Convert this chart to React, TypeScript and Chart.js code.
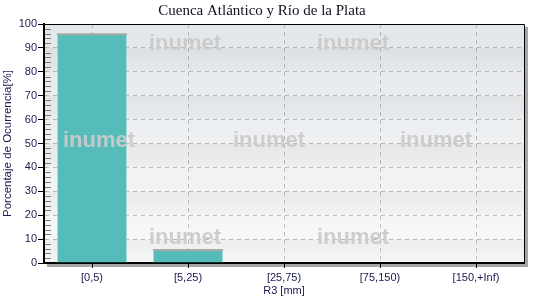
import React, { useEffect, useRef } from 'react';
import { Chart, registerables } from 'chart.js';

Chart.register(...registerables);

const chartTitle = 'Cuenca Atlántico y Río de la Plata';
const xAxisTitle = 'R3 [mm]';
const yAxisTitle = 'Porcentaje de Ocurrencia[%]';
const categories = ['[0,5)', '[5,25)', '[25,75)', '[75,150)', '[150,+Inf)'];
const percentages = [95.7, 5.4, 0, 0, 0];
const yMin = 0;
const yMax = 100;
const yStep = 10;
const yMinorStep = 2;
const watermarkText = 'inumet';

const TEXT_COLOR = '#1a1a50';
const SANS = 'Arial, "Liberation Sans", sans-serif';
const GRID_COLOR = 'rgba(120,120,120,0.45)';

const decorPlugin = {
  id: 'decor',
  beforeDraw(chart: any) {
    const { ctx, chartArea: a } = chart;
    const ys = chart.scales.y;
    ctx.save();
    ctx.fillStyle = '#a6a6a6';
    ctx.fillRect(a.right + 1, a.top + 3, 3, a.bottom - a.top);
    ctx.fillRect(a.left + 3, a.bottom + 1, a.right - a.left + 1, 3);
    const g = ctx.createLinearGradient(0, a.top, 0, a.bottom);
    g.addColorStop(0, '#e4e7ea');
    g.addColorStop(1, '#f8f9fa');
    ctx.fillStyle = g;
    ctx.fillRect(a.left, a.top, a.right - a.left, a.bottom - a.top);
    for (let v = yMax - yStep; v > yMin; v -= 2 * yStep) {
      const top = ys.getPixelForValue(v);
      const bot = ys.getPixelForValue(v - yStep);
      const bg = ctx.createLinearGradient(0, top, 0, bot);
      bg.addColorStop(0, 'rgba(0,0,0,0.04)');
      bg.addColorStop(1, 'rgba(0,0,0,0.01)');
      ctx.fillStyle = bg;
      ctx.fillRect(a.left, top, a.right - a.left, bot - top);
    }
    ctx.restore();
  },
  afterDatasetsDraw(chart: any) {
    const { ctx } = chart;
    const meta = chart.getDatasetMeta(0);
    ctx.save();
    ctx.fillStyle = '#a8a8a8';
    meta.data.forEach((bar: any, i: number) => {
      if (!percentages[i]) return;
      const w = bar.width;
      ctx.fillRect(bar.x - w / 2, bar.y - 1, w, 2);
    });
    ctx.restore();
  },
  afterDraw(chart: any) {
    const { ctx, chartArea: a } = chart;
    const ys = chart.scales.y;
    ctx.save();
    ctx.strokeStyle = '#7a7a7a';
    ctx.lineWidth = 1;
    ctx.beginPath();
    for (let v = yMin + yMinorStep; v < yMax; v += yMinorStep) {
      if (v % yStep === 0) continue;
      const y = Math.round(ys.getPixelForValue(v)) + 0.5;
      ctx.moveTo(a.left + 1, y);
      ctx.lineTo(a.left + 7, y);
    }
    ctx.stroke();
    ctx.strokeStyle = '#000';
    ctx.beginPath();
    ctx.moveTo(a.left, Math.round(a.top) + 0.5);
    ctx.lineTo(Math.round(a.right) + 0.5, Math.round(a.top) + 0.5);
    ctx.lineTo(Math.round(a.right) + 0.5, a.bottom);
    ctx.stroke();
    ctx.font = `bold 22px ${SANS}`;
    ctx.fillStyle = 'rgba(202,202,202,0.95)';
    ctx.textAlign = 'center';
    ctx.textBaseline = 'middle';
    const rows = [
      { y: 44, xs: [185, 353] },
      { y: 141, xs: [99, 269, 436] },
      { y: 238, xs: [185, 353] },
    ];
    rows.forEach((r) => r.xs.forEach((x) => ctx.fillText(watermarkText, x, r.y)));
    ctx.restore();
  },
};

export default function App() {
  const ref = useRef<HTMLCanvasElement>(null);
  useEffect(() => {
    if (!ref.current) return;
    const chart = new Chart(ref.current, {
      type: 'bar',
      data: {
        labels: categories,
        datasets: [
          {
            data: percentages,
            backgroundColor: '#56bcb9',
            borderColor: '#a9dedb',
            borderWidth: { left: 1, right: 1, top: 0, bottom: 0 },
            borderSkipped: false,
            categoryPercentage: 1,
            barPercentage: 0.73,
          },
        ],
      },
      options: {
        responsive: false,
        animation: false,
        layout: { padding: { left: 0, right: 16, top: 0, bottom: 0 } },
        plugins: {
          legend: { display: false },
          tooltip: { enabled: false },
          title: {
            display: true,
            text: chartTitle,
            color: '#101020',
            font: { family: '"Liberation Serif", "Times New Roman", serif', size: 15, weight: 'normal' },
            padding: { top: 2, bottom: 4 },
          },
        },
        scales: {
          x: {
            z: 1,
            offset: true,
            afterFit: (s: any) => {
              s.height = 37;
            },
            grid: {
              offset: false,
              color: GRID_COLOR,
              lineWidth: 1,
              drawTicks: true,
              tickLength: 5,
              tickColor: '#000',
              tickWidth: 1,
              tickBorderDash: [],
            },
            border: { display: true, color: '#000', width: 2, dash: [4, 4] },
            ticks: {
              color: TEXT_COLOR,
              font: { family: SANS, size: 11 },
              padding: 3,
              maxRotation: 0,
              autoSkip: false,
            },
            title: {
              display: true,
              text: xAxisTitle,
              color: TEXT_COLOR,
              font: { family: SANS, size: 11 },
              padding: { top: 0, bottom: 2.4 },
            },
          },
          y: {
            z: 1,
            min: yMin,
            max: yMax,
            afterFit: (s: any) => {
              s.width = 44;
            },
            grid: {
              color: GRID_COLOR,
              lineWidth: 1,
              drawTicks: true,
              tickLength: 6,
              tickColor: '#000',
              tickWidth: 1,
              tickBorderDash: [],
            },
            border: { display: true, color: '#000', width: 2, dash: [4, 4] },
            ticks: {
              stepSize: yStep,
              color: TEXT_COLOR,
              font: { family: SANS, size: 11 },
              padding: 1,
            },
            title: {
              display: true,
              text: yAxisTitle,
              color: TEXT_COLOR,
              font: { family: SANS, size: 11.5 },
              padding: { top: 1.2, bottom: 0 },
            },
          },
        },
      },
      plugins: [decorPlugin],
    });
    return () => chart.destroy();
  }, []);
  return (
    <div style={{ position: 'absolute', left: 0, top: 0, width: 540, height: 300, background: '#fff' }}>
      <canvas ref={ref} width={540} height={300} style={{ display: 'block' }} />
    </div>
  );
}
